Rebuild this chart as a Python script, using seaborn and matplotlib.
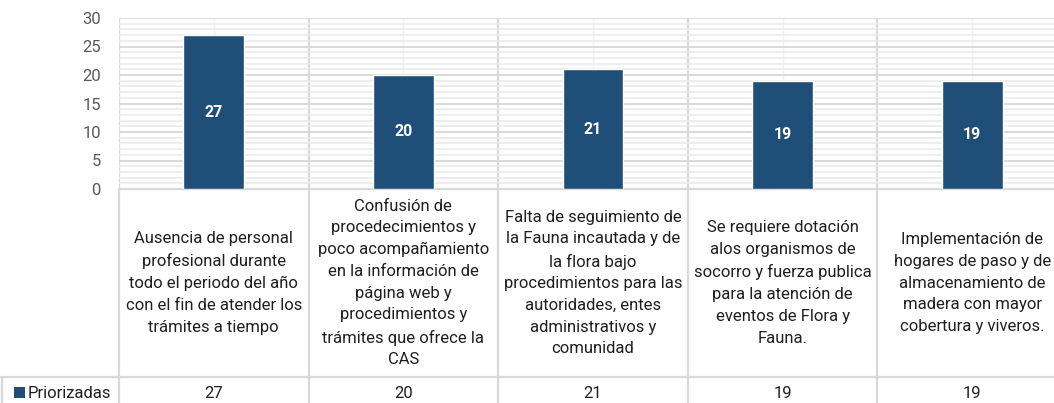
import matplotlib
matplotlib.use("Agg")
import matplotlib.pyplot as plt
import matplotlib.transforms as mtransforms
from matplotlib.lines import Line2D
from matplotlib.patches import Rectangle
from matplotlib.ticker import MultipleLocator, FixedLocator
import seaborn as sns
import pandas as pd

# Problemas priorizados (texto con saltos de línea como aparece en la tabla)
categorias = [
    "Ausencia de personal\nprofesional durante\ntodo el periodo del año\ncon el fin de atender los\ntrámites a tiempo",
    "Confusión de\nprocedecimientos y\npoco acompañamiento\nen la información de\npágina web y\nprocedimientos y\ntrámites que ofrece la\nCAS",
    "Falta de seguimiento de\nla Fauna incautada y de\nla flora bajo\nprocedimientos para las\nautoridades, entes\nadministrativos y\ncomunidad",
    "Se requiere dotación\nalos organismos de\nsocorro y fuerza publica\npara la atención de\neventos de Flora y\nFauna.",
    "Implementación de\nhogares de paso y de\nalmacenamiento de\nmadera con mayor\ncobertura y viveros.",
]
valores = [27, 20, 21, 19, 19]
serie = "Priorizadas"
y_ticks = [0, 5, 10, 15, 20, 25, 30]

COLOR_BAR = "#1f4e79"
COLOR_GRID = "#d9d9d9"
COLOR_MINOR = "#ebebeb"
COLOR_TEXT = "#1f1f1f"
COLOR_TICK = "#595959"

sns.set_theme(style="white")
plt.rcParams["font.family"] = ["Roboto", "DejaVu Sans"]

W, H = 1054, 403
fig = plt.figure(figsize=(W / 100, H / 100), dpi=100)

# plot area in pixels
px_left, px_right, px_top, px_bottom = 119, 1054, 18, 189
cat_px = 189.6  # width of one category column
ax = fig.add_axes([px_left / W, 1 - px_bottom / H,
                   (px_right - px_left) / W, (px_bottom - px_top) / H])

df = pd.DataFrame({"categoria": categorias, "valor": valores})
sns.barplot(data=df, x="categoria", y="valor", color=COLOR_BAR,
            saturation=1, width=0.32, ax=ax, zorder=3)
ax.bar_label(ax.containers[0], label_type="center", color="white",
             fontweight="bold", fontsize=11.5)

n = len(valores)
ax.set_xlim(-0.5, -0.5 + (px_right - px_left) / cat_px)
ax.set_ylim(y_ticks[0], y_ticks[-1])
ax.set_xlabel("")
ax.set_ylabel("")

# grid: major lines every 5, minor every 1; verticals at column edges/centers
ax.yaxis.set_major_locator(FixedLocator(y_ticks))
ax.yaxis.set_minor_locator(MultipleLocator(1))
bounds = [i - 0.5 for i in range(n + 1)]
ax.xaxis.set_major_locator(FixedLocator(bounds))
ax.xaxis.set_minor_locator(FixedLocator(list(range(n))))
ax.grid(which="major", axis="y", color=COLOR_GRID, lw=1.4, zorder=1)
ax.grid(which="minor", axis="y", color=COLOR_MINOR, lw=1.2, zorder=0)
ax.grid(which="major", axis="x", color=COLOR_GRID, lw=1.6, zorder=1)
ax.grid(which="minor", axis="x", color="#f2f2f2", lw=1.0, zorder=0)
ax.set_axisbelow(True)
for s in ax.spines.values():
    s.set_visible(False)
ax.tick_params(axis="x", which="both", length=0, labelbottom=False)
ax.tick_params(axis="y", which="both", length=0, pad=13,
               labelsize=12, labelcolor=COLOR_TICK)

# data table below the plot
ax_h = px_bottom - px_top
def yax(py):
    return (px_bottom - py) / ax_h

trans = mtransforms.blended_transform_factory(ax.transData, ax.transAxes)
row_sep = 377
for b in bounds:
    ax.add_line(Line2D([b, b], [yax(px_bottom), yax(H)], transform=trans,
                       color=COLOR_GRID, lw=1.6, clip_on=False))
ax.add_line(Line2D([0, 1], [yax(px_bottom), yax(px_bottom)],
                   transform=ax.transAxes, color=COLOR_GRID, lw=1.6, clip_on=False))
fig.add_artist(Line2D([0, 1], [1 - row_sep / H, 1 - row_sep / H],
                      color=COLOR_GRID, lw=1.6))
fig.add_artist(Line2D([1.5 / W, 1.5 / W], [0, 1 - row_sep / H],
                      color=COLOR_GRID, lw=1.6))

for i, (cat, v) in enumerate(zip(categorias, valores)):
    ax.text(i, yax((px_bottom + row_sep) / 2), cat, transform=trans,
            ha="center", va="center", ma="center", fontsize=12,
            color=COLOR_TEXT, linespacing=1.56, clip_on=False)
    ax.text(i, yax((row_sep + H) / 2 + 3), str(v), transform=trans,
            ha="center", va="center", fontsize=12, color=COLOR_TEXT,
            clip_on=False)

# legend key in the value row
fig.add_artist(Rectangle((14 / W, 1 - 398 / H), 11 / W, 11 / H,
                         facecolor=COLOR_BAR, edgecolor="none"))
fig.text(28 / W, 1 - ((row_sep + H) / 2 + 3) / H, serie, ha="left",
         va="center", fontsize=12, color=COLOR_TEXT)

fig.savefig("out.png", dpi=100)
